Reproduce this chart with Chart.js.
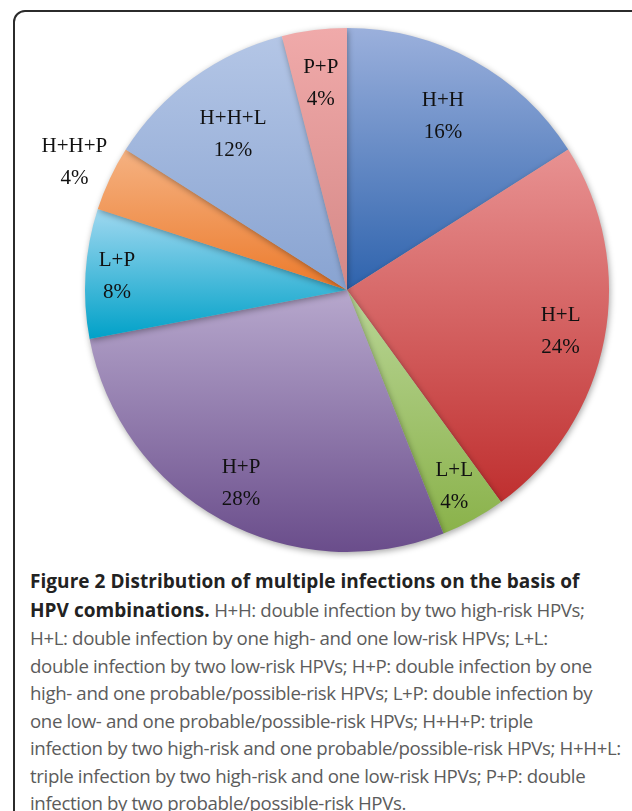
<!DOCTYPE html>
<html>
<head>
<meta charset="utf-8">
<script src="https://cdn.jsdelivr.net/npm/chart.js@4"></script>
<style>
  body { margin: 0; background: #fff; width: 632px; height: 811px; overflow: hidden; position: relative; }
  #frame { position: absolute; left: 13px; top: 10px; width: 700px; height: 900px;
           border: 2px solid #2b2b2b; border-radius: 12px; box-sizing: border-box; }
  #wrap { position: absolute; left: 0; top: 0; width: 632px; height: 560px; }
  #caption { position: absolute; left: 30px; top: 567px; width: 600px;
             font-family: "Open Sans", sans-serif; font-size: 18.7px; line-height: 27.5px;
             color: #5c5c5c; letter-spacing: -0.38px; white-space: nowrap; }
  #caption b { color: #222; font-weight: 700; font-size: 19px; letter-spacing: 0.05px; }
</style>
</head>
<body>
<div id="frame"></div>
<div id="wrap"><canvas id="pieChart" width="632" height="560"></canvas></div>
<div id="caption"><b>Figure 2 Distribution of multiple infections on the basis of<br>HPV combinations.</b> H+H: double infection by two high-risk HPVs;<br>H+L: double infection by one high- and one low-risk HPVs; L+L:<br>double infection by two low-risk HPVs; H+P: double infection by one<br>high- and one probable/possible-risk HPVs; L+P: double infection by<br>one low- and one probable/possible-risk HPVs; H+H+P: triple<br>infection by two high-risk and one probable/possible-risk HPVs; H+H+L:<br>triple infection by two high-risk and one low-risk HPVs; P+P: double<br>infection by two probable/possible-risk HPVs.</div>
<script>
var labels = ["H+H", "H+L", "L+L", "H+P", "L+P", "H+H+P", "H+H+L", "P+P"];
var values = [16, 24, 4, 28, 8, 4, 12, 4];
var topColors = ["#9bb0dc", "#e89292", "#b9d596", "#b7a8cd", "#a0d8f0", "#f5b282", "#b4c6e6", "#f0aaaa"];
var bottomColors = ["#2e63ad", "#bf2f2f", "#8ab24a", "#6a4d8b", "#00a1c8", "#ec7a2b", "#88a3d1", "#d58886"];

var total = values.reduce(function(a, b){ return a + b; }, 0);

// vertical extent of one slice, worked out from the data and the chart area
function sliceRange(chart, i){
  var area = chart.chartArea;
  var cx = (area.left + area.right) / 2, cy = (area.top + area.bottom) / 2;
  var r = Math.min(area.right - area.left, area.bottom - area.top) / 2;
  var before = 0;
  for (var k = 0; k < i; k++) before += values[k];
  var a0 = -Math.PI / 2 + before / total * 2 * Math.PI;
  var a1 = a0 + values[i] / total * 2 * Math.PI;
  var ys = [cy, cy + r * Math.sin(a0), cy + r * Math.sin(a1)];
  [Math.PI / 2, 3 * Math.PI / 2, -Math.PI / 2].forEach(function(a){
    if (a > a0 && a < a1) ys.push(cy + r * Math.sin(a));
  });
  return [Math.min.apply(null, ys), Math.max.apply(null, ys)];
}

function sliceFill(context){
  var chart = context.chart, i = context.dataIndex;
  if (!chart.chartArea) return topColors[i];
  var yr = sliceRange(chart, i);
  var g = chart.ctx.createLinearGradient(0, yr[0], 0, yr[1]);
  g.addColorStop(0, topColors[i]);
  g.addColorStop(1, bottomColors[i]);
  return g;
}

const shadowPlugin = {
  id: 'pieShadow',
  beforeDatasetDraw: (chart) => {
    chart.ctx.save();
    chart.ctx.shadowColor = 'rgba(0,0,0,0.35)';
    chart.ctx.shadowBlur = 6;
    chart.ctx.shadowOffsetX = 1;
    chart.ctx.shadowOffsetY = 2;
  },
  afterDatasetDraw: (chart) => {
    chart.ctx.restore();
  }
};

// label distance from the centre, as a share of the radius
var labelDist = [0.76, 0.83, 0.85, 0.84, 0.88, 1.15, 0.74, 0.8];

const labelPlugin = {
  id: 'sliceLabels',
  afterDatasetsDraw: (chart) => {
    const ctx = chart.ctx;
    const arcs = chart.getDatasetMeta(0).data;
    ctx.save();
    ctx.font = '21px "Liberation Serif", serif';
    ctx.fillStyle = '#111';
    ctx.textAlign = 'center';
    ctx.textBaseline = 'middle';
    arcs.forEach((arc, i) => {
      const mid = (arc.startAngle + arc.endAngle) / 2;
      const d = arc.outerRadius * labelDist[i];
      const x = arc.x + d * Math.cos(mid);
      const y = arc.y + d * Math.sin(mid);
      ctx.fillText(labels[i], x, y - 15);
      ctx.fillText(values[i] + '%', x, y + 17);
    });
    ctx.restore();
  }
};

new Chart(document.getElementById("pieChart"), {
  type: "pie",
  data: {
    labels: labels,
    datasets: [{
      data: values,
      backgroundColor: sliceFill,
      borderWidth: 0
    }]
  },
  options: {
    responsive: false,
    animation: false,
    layout: { padding: { left: 85, right: 23, top: 28, bottom: 8 } },
    plugins: {
      legend: { display: false },
      tooltip: { enabled: false }
    }
  },
  plugins: [shadowPlugin, labelPlugin]
});
</script>
</body>
</html>
